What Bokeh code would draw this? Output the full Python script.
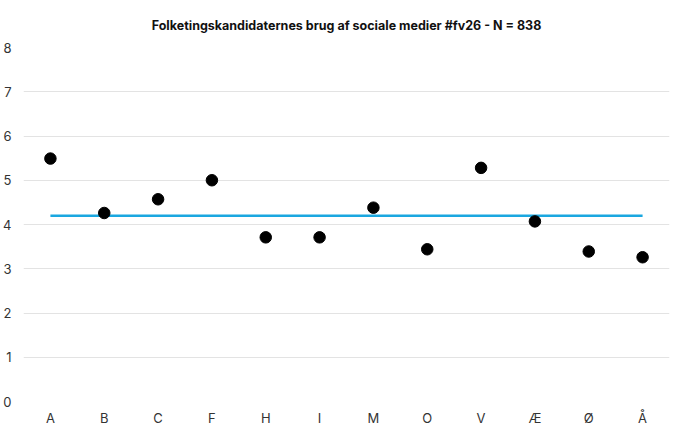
from bokeh.plotting import figure
from bokeh.embed import file_html
from bokeh.resources import INLINE
from bokeh.models import FixedTicker

categories = ["A", "B", "C", "F", "H", "I", "M", "O", "V", "Æ", "Ø", "Å"]
values = [5.49, 4.26, 4.57, 5.0, 3.71, 3.71, 4.38, 3.44, 5.28, 4.07, 3.39, 3.26]
average = [4.2] * len(categories)
title_text = "Folketingskandidaternes brug af sociale medier #fv26 - N = 838"

p = figure(x_range=categories, y_range=(0, 8), frame_width=646, frame_height=354,
           output_backend="svg", toolbar_location=None,
           min_border_left=0, min_border_right=3, min_border_top=8, min_border_bottom=0)
p.title.text = title_text
p.title.align = "center"
p.title.text_font = "Inter"
p.title.text_font_size = "12.5px"
p.title.text_font_style = "bold"
p.title.text_color = "#111111"
p.title.standoff = 30

p.line(categories, average, line_color="#1aa7e0", line_width=2.5)
p.scatter(categories, values, size=11.5, fill_color="black", line_color="black")

p.outline_line_color = None
p.xgrid.grid_line_color = None
p.ygrid.grid_line_color = "#e3e3e3"
p.ygrid.grid_line_width = 1
p.yaxis.ticker = FixedTicker(ticks=list(range(0, 9)))
for ax in (p.xaxis, p.yaxis):
    ax.axis_line_color = None
    ax.major_tick_line_color = None
    ax.minor_tick_line_color = None
    ax.major_tick_out = 0
    ax.major_tick_in = 0
    ax.major_label_text_font = "Inter"
    ax.major_label_text_font_size = "13px"
    ax.major_label_text_color = "#333333"
p.yaxis.major_label_standoff = 12
p.xaxis.major_label_standoff = 8

open("out.html", "w").write(file_html(p, INLINE))
